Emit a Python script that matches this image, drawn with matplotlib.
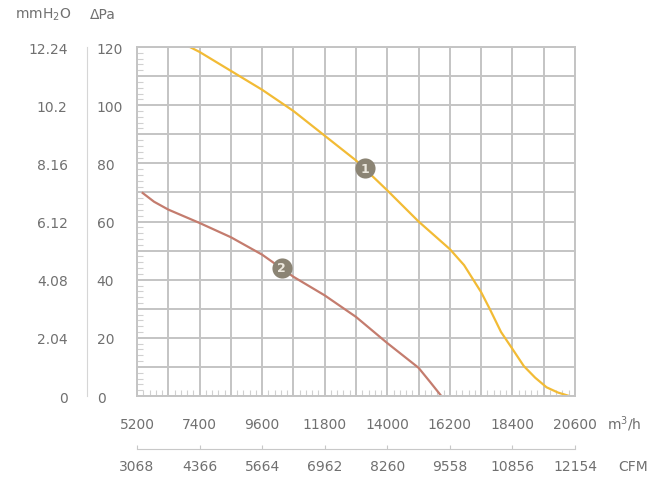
import matplotlib

matplotlib.use("Agg")
import matplotlib.pyplot as plt
from matplotlib.ticker import FuncFormatter, MultipleLocator

# flow in m3/h, pressure in Pa
curve1_flow = [7060, 7400, 8500, 9600, 10700, 11800, 12900, 14000, 15100, 16200,
               16700, 17300, 17600, 18000, 18400, 18800, 19200, 19600, 20000, 20400]
curve1_pa = [120, 118.3, 111.8, 105.3, 98.0, 89.5, 81.0, 70.7, 60.0, 50.5,
             45.0, 35.7, 30.0, 22.0, 16.2, 10.3, 6.3, 3.0, 1.2, 0]

curve2_flow = [5400, 5800, 6300, 7400, 8500, 9600, 10700, 11800, 12900, 14000,
               15100, 15500, 15900]
curve2_pa = [69.8, 66.8, 64.1, 59.5, 54.6, 48.6, 41.0, 34.6, 27.2, 18.2,
             9.7, 4.9, 0]

badge_labels = ["1", "2"]
badge_flow = [13215, 10284]
badge_pa = [78.4, 44.1]

flow_ticks = [5200, 7400, 9600, 11800, 14000, 16200, 18400, 20600]
cfm_ticks = [3068, 4366, 5664, 6962, 8260, 9558, 10856, 12154]
pa_ticks = [0, 20, 40, 60, 80, 100, 120]
mmh2o_labels = ["0", "2.04", "4.08", "6.12", "8.16", "10.2", "12.24"]

GRID = "#c4c4c4"
TEXT = "#707070"

fig = plt.figure(figsize=(6.7, 4.85), dpi=100)
ax = fig.add_axes([0.2045, 0.1814, 0.6537, 0.7196])

ax.set_xlim(flow_ticks[0], flow_ticks[-1])
ax.set_ylim(pa_ticks[0], pa_ticks[-1])

# grid every 1100 m3/h and 10 Pa, labels on every second line
ax.xaxis.set_major_locator(MultipleLocator(1100, offset=flow_ticks[0] % 1100))
ax.yaxis.set_major_locator(MultipleLocator(10))
ax.xaxis.set_minor_locator(MultipleLocator(220, offset=flow_ticks[0] % 220))
ax.yaxis.set_minor_locator(MultipleLocator(2))
ax.xaxis.set_major_formatter(
    FuncFormatter(lambda v, _: str(int(round(v))) if int(round(v)) in flow_ticks else ""))
ax.yaxis.set_major_formatter(
    FuncFormatter(lambda v, _: str(int(round(v))) if int(round(v)) in pa_ticks else ""))

ax.grid(True, which="major", color=GRID, linewidth=1.4)
ax.set_axisbelow(True)
for sp in ax.spines.values():
    sp.set_color(GRID)
    sp.set_linewidth(1.4)

ax.tick_params(which="major", length=0, colors=TEXT, labelsize=10)
ax.tick_params(which="minor", direction="in", length=4, color="#d0d0d0",
               width=0.8)
ax.tick_params(axis="x", which="major", pad=15)
# Pa labels sit left-aligned in their own column
ax.tick_params(axis="y", which="major", pad=29)
for t in ax.yaxis.get_major_ticks():
    t.label1.set_horizontalalignment("left")

ax.plot(curve1_flow, curve1_pa, color="#f2bb35", linewidth=1.6)
ax.plot(curve2_flow, curve2_pa, color="#c47c6e", linewidth=1.6)

for lab, fx, py in zip(badge_labels, badge_flow, badge_pa):
    ax.plot(fx, py, marker="o", markersize=14.5, color="#8b8474",
            markeredgewidth=0, zorder=5)
    ax.text(fx, py, lab, ha="center", va="center", color="#ece8de",
            fontsize=9, fontweight="bold", zorder=6)

# pressure in mmH2O on an extra left axis
sec_y = ax.secondary_yaxis(-0.114, functions=(lambda p: p / 9.80665,
                                               lambda m: m * 9.80665))
sec_y.set_yticks([p / 9.80665 for p in pa_ticks], mmh2o_labels)
sec_y.spines["left"].set_color("#d6d6d6")
sec_y.tick_params(which="both", length=0, colors=TEXT, labelsize=10, pad=14)

# flow in CFM on an extra bottom axis
sec_x = ax.secondary_xaxis(-0.152, functions=(lambda q: q * 0.59,
                                               lambda c: c / 0.59))
sec_x.set_xticks(cfm_ticks, [str(v) for v in cfm_ticks])
sec_x.minorticks_off()
sec_x.spines["bottom"].set_color("#c8c8c8")
sec_x.tick_params(direction="in", length=3, color="#c8c8c8", colors=TEXT,
                  labelsize=10, pad=7)

fig.text(15 / 670, 1 - 15 / 485, "mmH$_2$O", fontsize=10, color=TEXT,
         ha="left", va="center")
fig.text(90 / 670, 1 - 15 / 485, "\u0394Pa", fontsize=10, color=TEXT,
         ha="left", va="center")
fig.text(607 / 670, 1 - 424 / 485, "m$^3$/h", fontsize=10, color=TEXT,
         ha="left", va="center")
fig.text(618 / 670, 1 - 467 / 485, "CFM", fontsize=10, color=TEXT,
         ha="left", va="center")

fig.savefig("out.png", dpi=100)
